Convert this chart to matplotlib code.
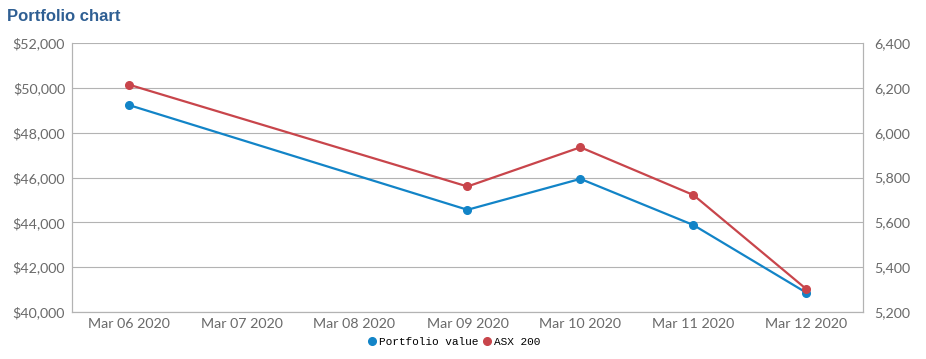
import matplotlib.pyplot as plt
from matplotlib.ticker import FuncFormatter

dates = ["Mar 06 2020", "Mar 07 2020", "Mar 08 2020", "Mar 09 2020",
         "Mar 10 2020", "Mar 11 2020", "Mar 12 2020"]
# trading days only (index into dates)
day_idx = [0, 3, 4, 5, 6]
portfolio = [49240, 44560, 45940, 43880, 40860]
asx200 = [6215, 5760, 5935, 5722, 5302]

blue = "#1284c7"
red = "#c8454b"
grey = "#b3b3b3"
tick_col = "#6a6a6a"

fig = plt.figure(figsize=(9.26, 3.59), dpi=100)
ax = fig.add_axes([0.0778, 0.131, 0.854, 0.749])
ax2 = ax.twinx()

ax.plot(day_idx, portfolio, color=blue, lw=1.6, marker="o", ms=5.5,
        label="Portfolio value", zorder=3)
ax2.plot(day_idx, asx200, color=red, lw=1.6, marker="o", ms=5.5,
         label="ASX 200", zorder=3)

ax.set_xlim(-0.5, 6.5)
ax.set_ylim(40000, 52000)
ax2.set_ylim(5200, 6400)
ax.set_yticks(range(40000, 52001, 2000))
ax2.set_yticks(range(5200, 6401, 200))
ax.set_xticks(range(len(dates)))
ax.set_xticklabels(dates)
ax.yaxis.set_major_formatter(FuncFormatter(lambda v, p: f"${v:,.0f}"))
ax2.yaxis.set_major_formatter(FuncFormatter(lambda v, p: f"{v:,.0f}"))

ax.grid(axis="y", color=grey, lw=0.8)
ax.set_axisbelow(True)
for a in (ax, ax2):
    for s in a.spines.values():
        s.set_color(grey)
    a.spines["top"].set_visible(False)
    a.tick_params(length=0, colors=tick_col, labelsize=10.3)
    for lab in a.get_xticklabels() + a.get_yticklabels():
        lab.set_family("Lato")
ax.tick_params(axis="y", pad=5)
ax2.tick_params(axis="y", pad=8)
ax.tick_params(axis="x", pad=4)

fig.text(0.008, 0.955, "Portfolio chart", color="#2f5f93", fontsize=12,
         fontweight="bold", family="Liberation Sans", va="center")

h1, l1 = ax.get_legend_handles_labels()
h2, l2 = ax2.get_legend_handles_labels()
leg = fig.legend(h1 + h2, l1 + l2, loc="center", bbox_to_anchor=(0.49, 0.047),
                 ncol=2, frameon=False, prop={"family": "Liberation Mono", "size": 8},
                 handlelength=0.8, handletextpad=0.2, columnspacing=0.4,
                 markerscale=1.0)
for h in leg.legend_handles:
    h.set_linestyle("none")

fig.savefig("out.png", dpi=100)
